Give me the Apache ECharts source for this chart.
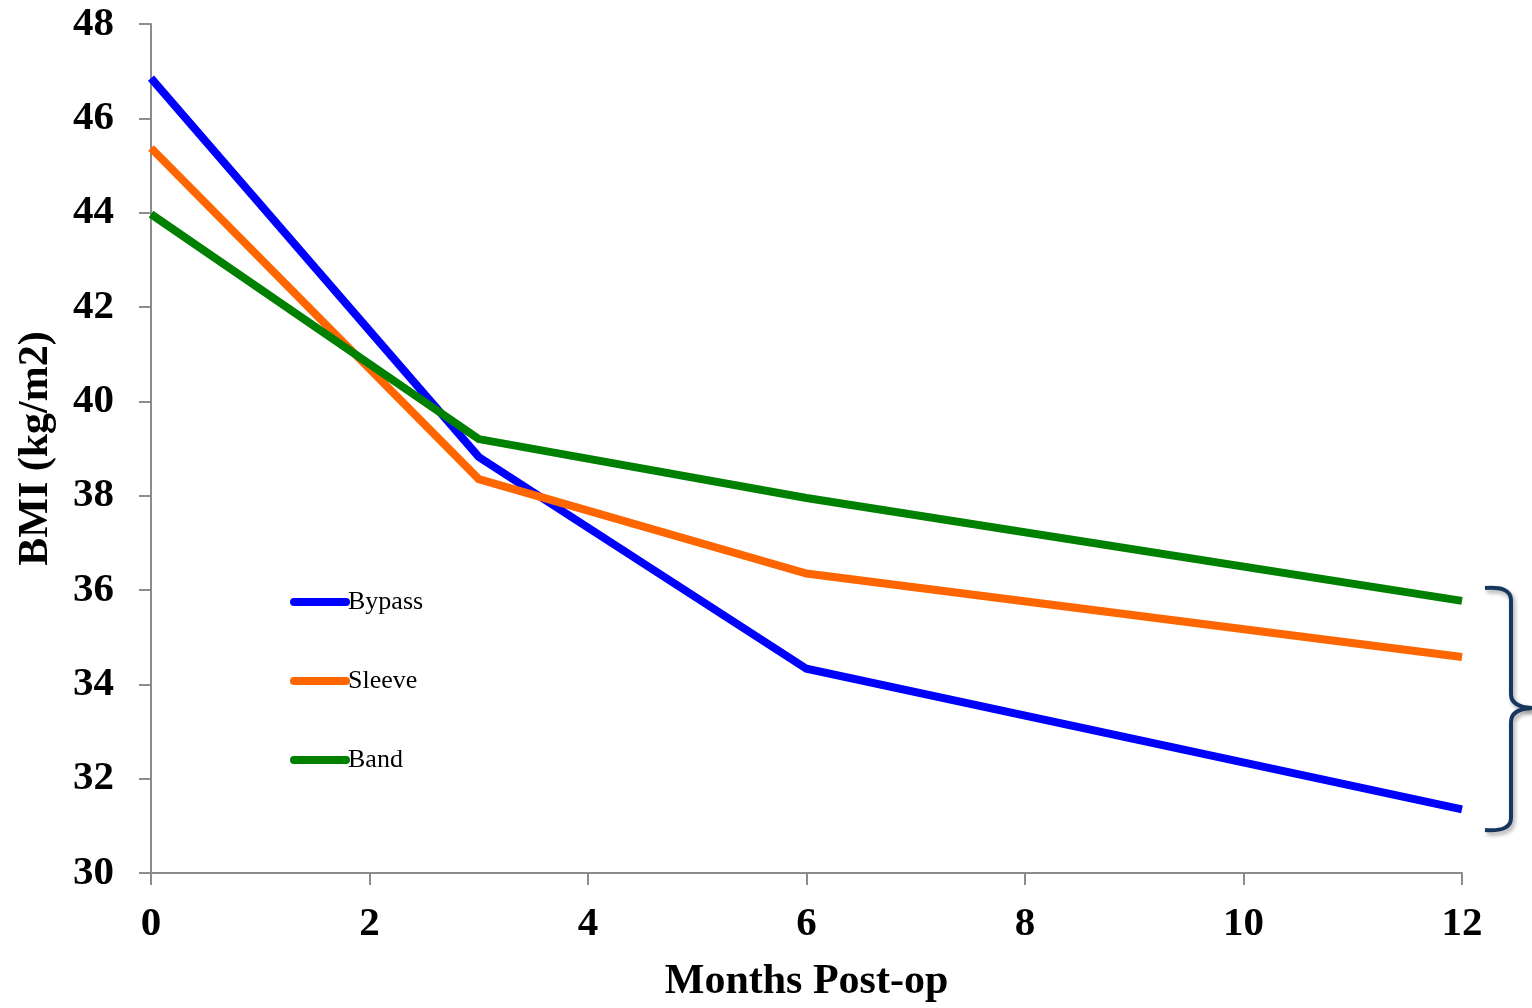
<!DOCTYPE html>
<html><head><meta charset="utf-8">
<script src="https://cdn.jsdelivr.net/npm/echarts@6/dist/echarts.min.js"></script>
<style>html,body{margin:0;padding:0;background:#fff}#c{width:1532px;height:1008px}</style>
</head><body><div id="c"></div>
<script>
const months = [0, 3, 6, 12];
const bypass = [46.85, 38.82, 34.33, 31.35];
const sleeve = [45.37, 38.35, 36.35, 34.58];
const band = [43.97, 39.2, 37.95, 35.77];
const seriesNames = ['Bypass', 'Sleeve', 'Band'];
const colors = ['#0000FF', '#FF6600', '#008000'];

const font = '"Liberation Serif", "Times New Roman", serif';
const chart = echarts.init(document.getElementById('c'));
const mk = (name, vals, color) => ({
  name, type: 'line', data: months.map((m, i) => [m, vals[i]]),
  showSymbol: false, symbol: 'none', lineStyle: { width: 8, color, cap: 'butt', join: 'miter' },
  itemStyle: { color }, animation: false
});
const bStyle = { fill: null, stroke: '#17375E', lineWidth: 4, shadowBlur: 4, shadowOffsetX: 2, shadowOffsetY: 3, shadowColor: 'rgba(0,0,0,0.35)' };
const seg = (type, shape) => ({ type, shape, style: bStyle, silent: true });
chart.setOption({
  animation: false,
  grid: { left: 151, right: 70, top: 24, bottom: 131 },
  legend: {
    orient: 'vertical', left: 290, top: 589, itemGap: 53, padding: 0,
    itemWidth: 52, itemHeight: 8,
    lineStyle: { width: 8, cap: 'round' },
    textStyle: { fontFamily: font, fontSize: 26, color: '#000', lineHeight: 24, padding: [0, 0, 0, -3] },
    data: seriesNames
  },
  xAxis: {
    type: 'value', min: 0, max: 12, interval: 2,
    name: 'Months Post-op', nameLocation: 'middle', nameGap: 88,
    nameTextStyle: { fontFamily: font, fontSize: 42, fontWeight: 'bold', color: '#000' },
    axisLine: { lineStyle: { color: '#8c8c8c', width: 2 } },
    axisTick: { show: true, length: 12, lineStyle: { color: '#8c8c8c', width: 2 } },
    axisLabel: { fontFamily: font, fontSize: 41, fontWeight: 'bold', color: '#000', margin: 31 },
    splitLine: { show: false }
  },
  yAxis: {
    type: 'value', min: 30, max: 48, interval: 2,
    name: 'BMI (kg/m2)', nameLocation: 'middle', nameGap: 94, nameRotate: 90,
    nameTextStyle: { fontFamily: font, fontSize: 42, fontWeight: 'bold', color: '#000' },
    axisLine: { show: true, lineStyle: { color: '#8c8c8c', width: 2 } },
    axisTick: { show: true, length: 12, lineStyle: { color: '#8c8c8c', width: 2 } },
    axisLabel: { fontFamily: font, fontSize: 41, fontWeight: 'bold', color: '#000', margin: 37 },
    splitLine: { show: false }
  },
  series: [mk(seriesNames[0], bypass, colors[0]), mk(seriesNames[1], sleeve, colors[1]), mk(seriesNames[2], band, colors[2])],
  graphic: [
    seg('bezierCurve', { x1: 1485, y1: 588, cpx1: 1511, cpy1: 586, x2: 1511, y2: 600 }),
    seg('line', { x1: 1511, y1: 600, x2: 1511, y2: 694 }),
    seg('bezierCurve', { x1: 1511, y1: 694, cpx1: 1511, cpy1: 707, x2: 1532, y2: 708 }),
    seg('bezierCurve', { x1: 1532, y1: 708, cpx1: 1511, cpy1: 709, x2: 1511, y2: 722 }),
    seg('line', { x1: 1511, y1: 722, x2: 1511, y2: 818 }),
    seg('bezierCurve', { x1: 1511, y1: 818, cpx1: 1511, cpy1: 832, x2: 1485, y2: 830 })
  ]
});
</script></body></html>
